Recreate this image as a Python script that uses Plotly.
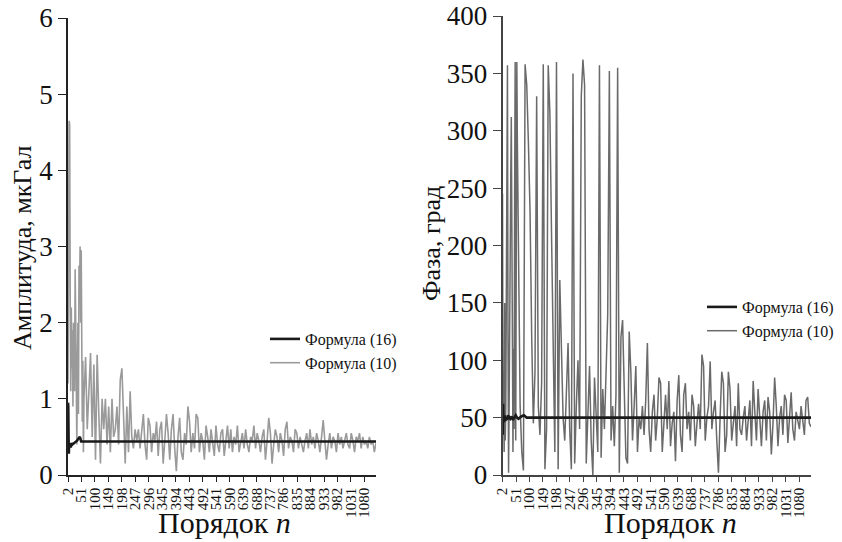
import plotly.graph_objects as go

# ---------------- data ----------------
# order n: dense start, then every 6th order
n_early = list(range(2, 61, 2))
n_late = list(range(66, 1123, 6))
n_gray = n_early + n_late

amp10_early = [1.2, 2.4, 4.65, 4.6, 2.3, 1.1, 2.2, 1.4, 1.9, 0.9,
               2.0, 1.6, 1.1, 2.7, 2.2, 1.3, 0.4, 1.6, 2.0, 0.8,
               2.75, 2.3, 3.0, 2.0, 2.95, 1.2, 0.7, 1.5, 0.3, 1.0]
amp10_a = [1.55, 0.6, 1.1, 1.6, 0.5, 1.45, 0.2, 1.58, 0.8, 0.15, 1.0, 0.6, 1.0, 0.4, 0.9]
amp10_b = [0.3, 1.0, 0.5, 0.6, 0.9, 0.4, 1.25, 1.4, 0.6, 0.15, 0.9, 0.3, 1.1, 0.5, 0.35, 0.6]
amp10_c = [0.45, 0.6, 0.35, 0.55, 0.8, 0.4, 0.2, 0.75, 0.65, 0.3, 0.55, 0.45, 0.7, 0.25, 0.6, 0.7]
amp10_d = [0.15, 0.45, 0.8, 0.55, 0.2, 0.6, 0.8, 0.35, 0.05, 0.5, 0.75, 0.3, 0.2, 0.55, 0.4, 0.9, 0.7]
amp10_e = [0.3, 0.55, 0.35, 0.8, 0.75, 0.3, 0.55, 0.45, 0.2, 0.65, 0.5, 0.3, 0.6, 0.45, 0.25, 0.65, 0.4]
amp10_f = [0.3, 0.55, 0.6, 0.25, 0.45, 0.65, 0.35, 0.6, 0.3, 0.5, 0.4, 0.65, 0.3, 0.45, 0.55, 0.35, 0.6]
amp10_g = [0.4, 0.3, 0.5, 0.45, 0.65, 0.35, 0.55, 0.45, 0.3, 0.5, 0.6, 0.2, 0.45, 0.75, 0.55, 0.15, 0.4]
amp10_h = [0.6, 0.5, 0.3, 0.55, 0.45, 0.25, 0.6, 0.7, 0.35, 0.5, 0.45, 0.3, 0.6, 0.55, 0.35, 0.5, 0.4]
amp10_i = [0.3, 0.45, 0.55, 0.35, 0.6, 0.4, 0.5, 0.35, 0.55, 0.45, 0.3, 0.5, 0.72, 0.45, 0.2, 0.4, 0.55]
amp10_j = [0.35, 0.5, 0.45, 0.3, 0.55, 0.4, 0.5, 0.35, 0.45, 0.55, 0.4, 0.35, 0.55, 0.45, 0.3, 0.5, 0.45]
amp10_k = [0.55, 0.35, 0.5, 0.4, 0.45, 0.35, 0.5, 0.4, 0.45, 0.3, 0.42]
amp10 = (amp10_early + amp10_a + amp10_b + amp10_c + amp10_d + amp10_e + amp10_f
         + amp10_g + amp10_h + amp10_i + amp10_j + amp10_k)

phase10_early = [245, 40, 65, 20, 150, 30, 60, 160, 250, 357,
                 120, 2, 60, 160, 230, 260, 312, 200, 70, 20,
                 110, 40, 240, 360, 30, 300, 360, 290, 240, 150]
phase10_a = [60, 20, 4, 358, 340, 290, 230, 120, 45, 90, 330, 60, 35, 80, 358]
phase10_b = [5, 40, 357, 315, 210, 100, 20, 360, 5, 170, 120, 50, 30, 75, 115, 40]
phase10_c = [5, 350, 10, 60, 100, 40, 330, 362, 340, 10, 65, 95, 30, 0, 85, 50]
phase10_d = [20, 357, 15, 75, 40, 90, 140, 352, 30, 60, 25, 70, 355, 2, 120, 135, 60]
phase10_e = [15, 10, 125, 90, 30, 60, 95, 20, 50, 40, 60, 35, 65, 115, 40, 20, 55]
phase10_f = [70, 30, 50, 85, 80, 20, 45, 70, 40, 82, 25, 45, 55, 12, 65, 87, 35]
phase10_g = [20, 70, 80, 40, 55, 30, 70, 60, 25, 45, 62, 40, 105, 95, 30, 50, 60]
phase10_h = [99, 40, 55, 65, 30, 2, 50, 90, 80, 20, 35, 90, 75, 30, 45, 60, 25]
phase10_i = [80, 40, 35, 50, 60, 30, 45, 65, 25, 82, 55, 30, 75, 50, 25, 55, 65]
phase10_j = [30, 68, 55, 18, 45, 85, 60, 25, 50, 60, 35, 70, 65, 28, 50, 72, 40]
phase10_k = [30, 55, 48, 40, 60, 45, 35, 65, 68, 45, 42]
phase10 = (phase10_early + phase10_a + phase10_b + phase10_c + phase10_d + phase10_e
           + phase10_f + phase10_g + phase10_h + phase10_i + phase10_j + phase10_k)

n_amp16 = [2, 3, 4, 5, 6, 8, 10, 12, 15, 18, 22, 26, 30, 35, 40, 45, 50, 60, 80, 1122]
amp16 = [0.95, 0.9, 0.5, 0.28, 0.42, 0.38, 0.4, 0.36, 0.42, 0.4,
         0.41, 0.43, 0.44, 0.45, 0.48, 0.5, 0.44, 0.44, 0.44, 0.44]

n_phase16 = [2, 3, 4, 5, 6, 8, 10, 12, 15, 18, 22, 26, 30, 35, 40, 45, 50, 55, 60, 70, 80, 90, 100, 1122]
phase16 = [60, 35, 62, 50, 46, 48, 52, 47, 50, 48, 52, 50, 49, 51, 48, 50, 52, 50, 49, 51, 52, 50, 50, 50]

xtick_vals = list(range(2, 1122, 49))
xtick_text = [str(v) for v in xtick_vals]

name16 = "Формула (16)"
name10 = "Формула (10)"
amp_title = "Амплитуда, мкГал"
phase_title = "Фаза, град"
x_title = "Порядок <i>n</i>"

# ---------------- figure ----------------
W, H = 842, 542
FONT = "serif"

fig = go.Figure()
fig.add_trace(go.Scatter(x=n_gray, y=amp10, name=name10, mode="lines",
                         line=dict(color="#9a9a9a", width=1.6),
                         xaxis="x", yaxis="y", legend="legend"))
fig.add_trace(go.Scatter(x=n_amp16, y=amp16, name=name16, mode="lines",
                         line=dict(color="#1a1a1a", width=2.6),
                         xaxis="x", yaxis="y", legend="legend"))
fig.add_trace(go.Scatter(x=n_gray, y=phase10, name=name10, mode="lines",
                         line=dict(color="#6a6a6a", width=1.5),
                         xaxis="x2", yaxis="y2", legend="legend2"))
fig.add_trace(go.Scatter(x=n_phase16, y=phase16, name=name16, mode="lines",
                         line=dict(color="#1a1a1a", width=2.6),
                         xaxis="x2", yaxis="y2", legend="legend2"))


def px(x):
    return x / W


def py(y):
    return 1 - y / H


xaxis_common = dict(range=[2, 1122], tickmode="array", tickvals=xtick_vals,
                    ticktext=xtick_text, tickangle=-90, ticks="outside",
                    ticklen=5, tickwidth=1.3, showline=True, linewidth=1.6,
                    showgrid=False, zeroline=False, automargin=False,
                    tickfont=dict(family=FONT, size=15, color="#111"))
yaxis_common = dict(ticks="outside", ticklen=8, tickwidth=1.3, showline=True,
                    linewidth=1.6, showgrid=False, zeroline=False, automargin=False,
                    tickfont=dict(family=FONT, size=27, color="#111"))

fig.update_layout(
    width=W, height=H, margin=dict(l=0, r=0, t=0, b=0, pad=0, autoexpand=False),
    paper_bgcolor="white", plot_bgcolor="white",
    font=dict(family=FONT, color="#111"),
    xaxis=dict(domain=[px(68), px(376)], anchor="y", linecolor="#222",
               tickcolor="#222", **xaxis_common),
    yaxis=dict(domain=[py(475), py(18)], anchor="x", range=[0, 6], dtick=1,
               linecolor="#222", tickcolor="#222", **yaxis_common),
    xaxis2=dict(domain=[px(502.5), px(811)], anchor="y2", linecolor="#444",
                tickcolor="#444", **xaxis_common),
    yaxis2=dict(domain=[py(475), py(16)], anchor="x2", range=[0, 400], dtick=50,
                linecolor="#444", tickcolor="#444", **yaxis_common),
    legend=dict(x=px(265), y=py(322), xanchor="left", yanchor="top",
                bgcolor="rgba(0,0,0,0)", borderwidth=0, tracegroupgap=0,
                font=dict(family=FONT, size=16, color="#111"), traceorder="reversed"),
    legend2=dict(x=px(702), y=py(290), xanchor="left", yanchor="top",
                 bgcolor="rgba(0,0,0,0)", borderwidth=0, tracegroupgap=0,
                 font=dict(family=FONT, size=16, color="#111"), traceorder="reversed"),
    showlegend=True,
)

for cx in (224, 670):
    fig.add_annotation(text=x_title, x=px(cx), y=py(522), xref="paper", yref="paper",
                       xanchor="center", yanchor="middle", showarrow=False,
                       font=dict(family=FONT, size=30, color="#111"))
fig.add_annotation(text=amp_title, x=px(22), y=py(248), xref="paper", yref="paper",
                   xanchor="center", yanchor="middle", showarrow=False, textangle=-90,
                   font=dict(family=FONT, size=26, color="#111"))
fig.add_annotation(text=phase_title, x=px(431), y=py(244), xref="paper", yref="paper",
                   xanchor="center", yanchor="middle", showarrow=False, textangle=-90,
                   font=dict(family=FONT, size=26, color="#111"))

fig.write_html("out.html")
